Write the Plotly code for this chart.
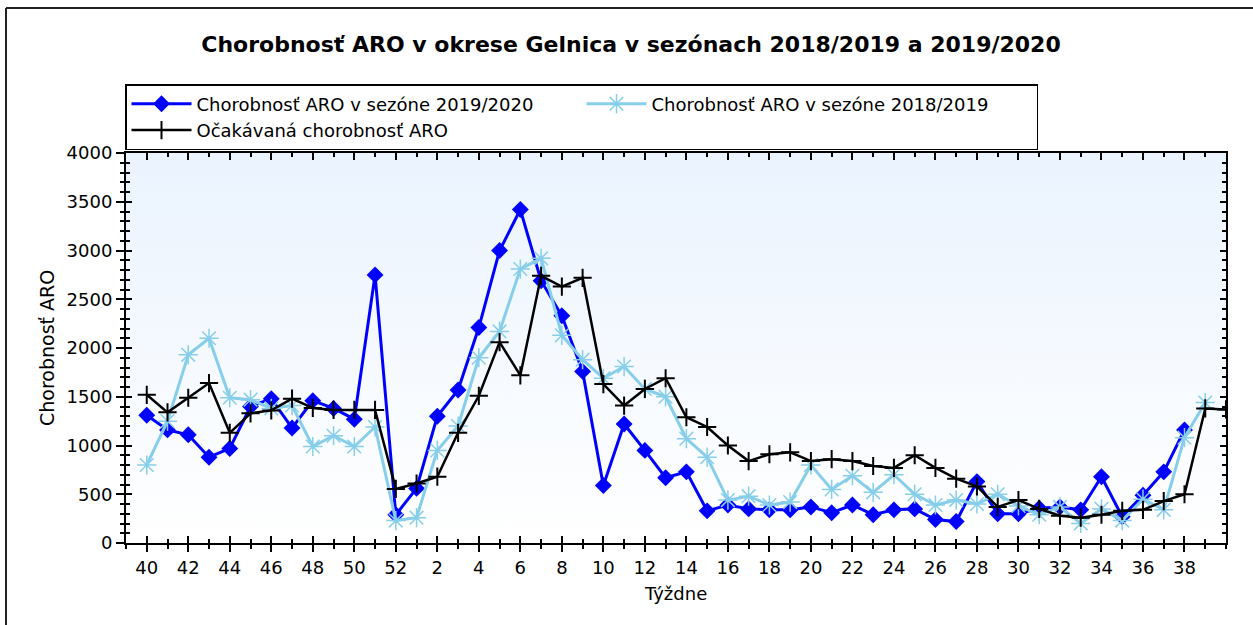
import plotly.graph_objects as go

# ---- data ----
weeks = [40, 41, 42, 43, 44, 45, 46, 47, 48, 49, 50, 51, 52,
         1, 2, 3, 4, 5, 6, 7, 8, 9, 10, 11, 12, 13, 14, 15, 16, 17, 18, 19, 20,
         21, 22, 23, 24, 25, 26, 27, 28, 29, 30, 31, 32, 33, 34, 35, 36, 37, 38, 39,
         40]

season_2019_2020 = [1310, 1160, 1110, 880, 970, 1400, 1480, 1180, 1460, 1380, 1270, 2750, 290,
                    560, 1300, 1570, 2210, 3000, 3420, 2690, 2330, 1760, 590, 1220, 950, 670, 730,
                    330, 390, 350, 340, 340, 370, 310, 390, 290, 340, 350, 240, 220, 630, 300, 300,
                    356, 370, 340, 680, 270, 490, 730, 1160, None]

season_2018_2019 = [800, 1250, 1930, 2100, 1490, 1470, 1380, 1410, 990, 1100, 990, 1190, 230,
                    260, 950, 1200, 1900, 2170, 2810, 2920, 2130, 1880, 1690, 1810, 1580, 1500, 1070,
                    880, 440, 480, 390, 420, 800, 550, 690, 520, 700, 500, 390, 440, 400, 500, 380,
                    290, 370, 200, 350, 230, 450, 340, 1080, 1440]

expected = [1520, 1340, 1490, 1640, 1130, 1330, 1360, 1480, 1385, 1365, 1365, 1365, 555,
            610, 680, 1130, 1510, 2060, 1720, 2740, 2630, 2720, 1630, 1410, 1580, 1690, 1290,
            1190, 1000, 840, 910, 930, 840, 860, 840, 790, 770, 900, 770, 660, 580, 370, 440,
            350, 280, 260, 290, 330, 340, 430, 500, 1380, 1370]

names = ["Chorobnosť ARO v sezóne 2019/2020",
         "Chorobnosť ARO v sezóne 2018/2019",
         "Očakávaná chorobnosť ARO"]
title_text = "Chorobnosť ARO v okrese Gelnica v sezónach 2018/2019 a 2019/2020"
y_title = "Chorobnosť ARO"
x_title = "Týždne"

# ---- layout geometry ----
W, H = 1253, 625
ML, MR, MT, MB = 126, 27, 153, 82
PW, PH = W - ML - MR, H - MT - MB
X_RANGE = [-1, len(weeks) - 1]
Y_RANGE = [0, 4000]

idx = list(range(len(weeks)))
season_len = len(weeks) - 1
tickvals = [i for i in range(season_len) if weeks[i] % 2 == 0]
ticktext = [str(weeks[i]) for i in tickvals]

FONT = "DejaVu Sans"

fig = go.Figure()

# gradient background of the plot area
fig.add_trace(go.Scatter(
    x=[X_RANGE[0], X_RANGE[1], X_RANGE[1], X_RANGE[0], X_RANGE[0]],
    y=[Y_RANGE[0], Y_RANGE[0], Y_RANGE[1], Y_RANGE[1], Y_RANGE[0]],
    mode="lines", line=dict(width=0), fill="toself",
    fillgradient=dict(type="vertical",
                      colorscale=[[0, "#ffffff"], [1, "#eaf3fe"]],
                      start=Y_RANGE[0], stop=Y_RANGE[1]),
    hoverinfo="skip", showlegend=False, xaxis="x", yaxis="y"))

fig.add_trace(go.Scatter(
    x=idx[:len(season_2019_2020)], y=season_2019_2020, name=names[0],
    mode="lines+markers", line=dict(color="#0000ff", width=3),
    marker=dict(symbol="diamond", size=13, color="#0000ff"),
    xaxis="x2", yaxis="y2"))

fig.add_trace(go.Scatter(
    x=idx[:len(season_2018_2019)], y=season_2018_2019, name=names[1],
    mode="lines+markers", line=dict(color="#87ceeb", width=3),
    marker=dict(symbol="asterisk-open", size=16, color="#87ceeb",
                line=dict(color="#87ceeb", width=1.5)),
    xaxis="x2", yaxis="y2"))

fig.add_trace(go.Scatter(
    x=idx[:len(expected)], y=expected, name=names[2],
    mode="lines+markers", line=dict(color="#000000", width=2.5),
    marker=dict(symbol="cross-thin-open", size=13, color="#000000",
                line=dict(color="#000000", width=2)),
    xaxis="x2", yaxis="y2"))

tickfont = dict(family=FONT, size=18, color="#000000")

fig.update_layout(
    width=W, height=H,
    margin=dict(l=ML, r=MR, t=MT, b=MB, pad=0),
    paper_bgcolor="#ffffff", plot_bgcolor="rgba(0,0,0,0)",
    showlegend=True,
    title=dict(text=title_text, x=631 / W, xanchor="center",
               y=1 - 44 / H, yanchor="middle",
               font=dict(family=FONT, size=22, color="#000000", weight="bold")),
    xaxis=dict(range=X_RANGE, tickmode="array", tickvals=tickvals, ticktext=ticktext,
               ticks="outside", ticklen=7, tickwidth=1.5, tickcolor="#000000",
               minor=dict(tickmode="linear", tick0=0, dtick=1, ticks="outside",
                          ticklen=4, tickwidth=1.5, tickcolor="#000000"),
               showline=True, linewidth=2, linecolor="#000000", mirror=True,
               showgrid=False, zeroline=False, tickfont=tickfont, fixedrange=True),
    xaxis2=dict(range=X_RANGE, overlaying="x", anchor="y2", side="bottom",
                tickmode="array", tickvals=tickvals, showticklabels=False,
                ticks="inside", ticklen=7, tickwidth=1.5, tickcolor="#000000",
                minor=dict(tickmode="linear", tick0=0, dtick=1, ticks="inside",
                           ticklen=4, tickwidth=1.5, tickcolor="#000000"),
                showline=True, linewidth=2, linecolor="#000000", mirror="ticks",
                showgrid=False, zeroline=False, fixedrange=True),
    yaxis=dict(range=Y_RANGE, tickmode="linear", tick0=0, dtick=500,
               ticks="outside", ticklen=8, tickwidth=1.5, tickcolor="#000000",
               minor=dict(tickmode="linear", tick0=0, dtick=100, ticks="outside",
                          ticklen=4, tickwidth=1.5, tickcolor="#000000"),
               showline=True, linewidth=2, linecolor="#000000", mirror=True,
               showgrid=False, zeroline=False, tickfont=tickfont, fixedrange=True),
    yaxis2=dict(range=Y_RANGE, overlaying="y", anchor="x2", side="left",
                tickmode="linear", tick0=0, dtick=500, showticklabels=False,
                ticks="inside", ticklen=6, tickwidth=1.5, tickcolor="#000000",
                minor=dict(tickmode="linear", tick0=0, dtick=100, ticks="inside",
                           ticklen=4, tickwidth=1.5, tickcolor="#000000"),
                showline=True, linewidth=2, linecolor="#000000", mirror="ticks",
                showgrid=False, zeroline=False, fixedrange=True),
    legend=dict(orientation="h", x=(125 - ML) / PW, xanchor="left",
                y=(H - MB - 84) / PH, yanchor="top",
                bgcolor="#ffffff", bordercolor="#000000", borderwidth=1.5,
                font=dict(family=FONT, size=18, color="#000000"),
                entrywidth=380, entrywidthmode="pixels", itemwidth=60,
                traceorder="normal"),
    annotations=[
        dict(text=y_title, xref="paper", yref="paper",
             x=(47 - ML) / PW, y=0.5, xanchor="center", yanchor="middle",
             textangle=-90, showarrow=False,
             font=dict(family=FONT, size=19, color="#000000")),
        dict(text=x_title, xref="paper", yref="paper",
             x=(675 - ML) / PW, y=(H - MB - 593) / PH, xanchor="center", yanchor="middle",
             showarrow=False, font=dict(family=FONT, size=18, color="#000000")),
    ],
    shapes=[
        dict(type="line", xref="paper", yref="paper",
             x0=(6 - ML) / PW, x1=(6 - ML) / PW,
             y0=(H - MB - H) / PH, y1=(H - MB - 8) / PH,
             line=dict(color="#222222", width=2), layer="above"),
        dict(type="line", xref="paper", yref="paper",
             x0=(6 - ML) / PW, x1=(W - ML) / PW,
             y0=(H - MB - 8) / PH, y1=(H - MB - 8) / PH,
             line=dict(color="#222222", width=2), layer="above"),
    ],
)

fig.write_html("out.html",
               config={"displayModeBar": False},
               post_script=("document.documentElement.style.overflow='hidden';"
                            "document.body.style.margin='0';"
                            "document.body.style.overflow='hidden';"))
